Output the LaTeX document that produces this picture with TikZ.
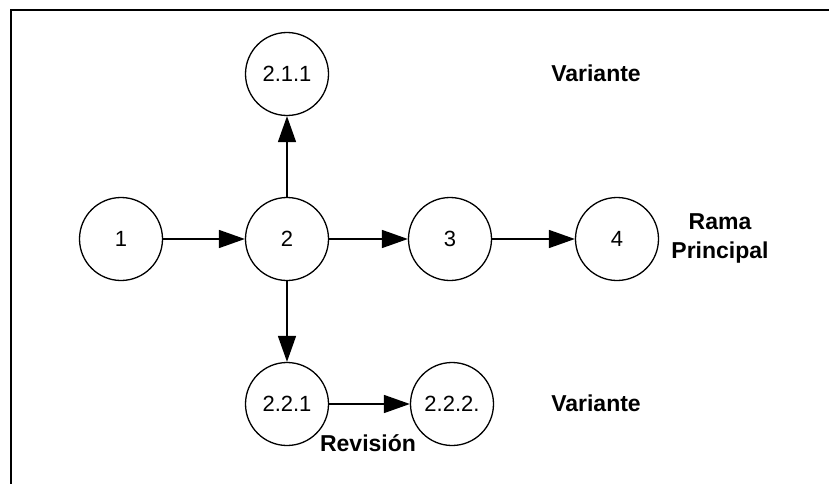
\documentclass[tikz,border=0pt]{standalone}
\usepackage{fontspec}
\setmainfont{Liberation Sans}
\usetikzlibrary{arrows.meta}
\tikzstyle{ver}=[circle, draw, line width=1.3pt, minimum size=83pt, inner sep=0pt, font=\fontsize{22}{25}\selectfont]
\tikzstyle{tag}=[font=\bfseries\fontsize{23}{29}\selectfont, align=center]
\tikzstyle{fl}=[-{Triangle[length=26pt,width=18pt]}, line width=1.6pt]

\begin{document}
\begin{tikzpicture}[x=1pt,y=-1pt]
\useasboundingbox (0,0) rectangle (829,484);
\coordinate (fb) at (11,484);
\coordinate (fc) at (11,10);
\coordinate (fr) at (829,10);
\draw[line width=2.2pt] (fb) -- (fc) -- (fr);
% rama principal
\node[ver] (n1) at (121,239) {1};
\node[ver] (n2) at (287,239) {2};
\node[ver] (n3) at (450,239) {3};
\node[ver] (n4) at (617,239) {4};
% variantes
\node[ver] (n211) at (287,74) {2.1.1};
\node[ver] (n221) at (287,404) {2.2.1};
\node[ver] (n222) at (452,404) {2.2.2.};
\draw[fl] (n1) -- (n2);
\draw[fl] (n2) -- (n3);
\draw[fl] (n3) -- (n4);
\draw[fl] (n2) -- (n211);
\draw[fl] (n2) -- (n221);
\draw[fl] (n221) -- (n222);
\node[tag] (v1) at (596,73) {Variante};
\node[tag] (rp) at (720,238) {Rama\\Principal};
\node[tag] (v2) at (596,403) {Variante};
\node[tag] (rv) at (368,443) {Revisión};
\end{tikzpicture}
\end{document}
